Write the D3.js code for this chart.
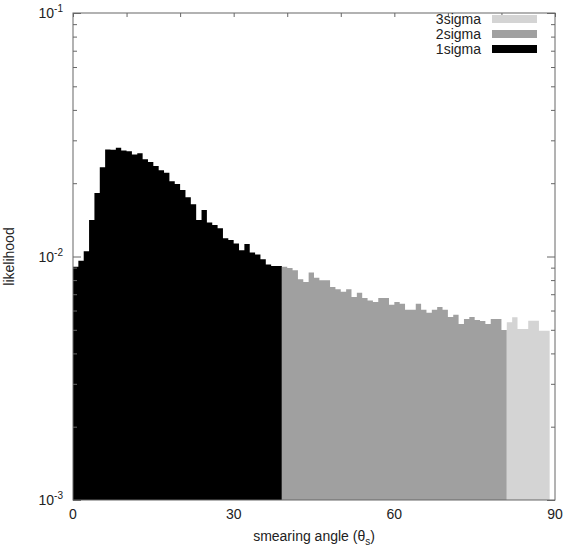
<!DOCTYPE html>
<html>
<head>
<meta charset="utf-8">
<script src="https://cdn.jsdelivr.net/npm/d3@7"></script>
<style>
  body { margin: 0; background: #fff; }
  svg text { font-family: "Liberation Sans", Arial, sans-serif; fill: #222; }
</style>
</head>
<body>
<svg id="chart" width="565" height="548"></svg>
<script>
// likelihood per 1-degree bin of the smearing angle, bins 0..88
const likelihood = [
  0.00907, 0.00960, 0.01051, 0.01413, 0.01821, 0.02325, 0.02749, 0.02742, 0.02795, 0.02723,
  0.02708, 0.02622, 0.02657, 0.02510, 0.02446, 0.02355, 0.02260, 0.02209, 0.02036, 0.01985,
  0.01874, 0.01753, 0.01640, 0.01413, 0.01553, 0.01378, 0.01347, 0.01305, 0.01187, 0.01168,
  0.01132, 0.01062, 0.01126, 0.01039, 0.01019, 0.00975, 0.00927, 0.00915, 0.00915, 0.00907,
  0.00898, 0.00878, 0.00807, 0.00786, 0.00859, 0.00817, 0.00798, 0.00798, 0.00750, 0.00733,
  0.00717, 0.00733, 0.00682, 0.00710, 0.00675, 0.00660, 0.00650, 0.00675, 0.00675, 0.00633,
  0.00650, 0.00639, 0.00604, 0.00604, 0.00639, 0.00604, 0.00587, 0.00604, 0.00621, 0.00604,
  0.00565, 0.00576, 0.00528, 0.00554, 0.00565, 0.00549, 0.00544, 0.00528, 0.00554, 0.00554,
  0.00499, 0.00537, 0.00563, 0.00504, 0.00504, 0.00545, 0.00545, 0.00496, 0.00496
];
const binWidth = 1;

// confidence regions: [from, to) in degrees
const sigmaNames = ["1sigma", "2sigma", "3sigma"];
const sigmaEdges = [0, 39, 81, 89];
const sigmaColors = ["#000000", "#a0a0a0", "#d4d4d4"];

const xTicks = [0, 30, 60, 90];
const xMinorTicks = [10, 20, 40, 50, 70, 80];
const yTicks = [1e-3, 1e-2, 1e-1];
const yTickExp = ["-3", "-2", "-1"];

const margin = { left: 73, right: 10, top: 13, bottom: 48 };
const W = 565, H = 548;
const svg = d3.select("#chart");

const x = d3.scaleLinear().domain([0, 90]).range([margin.left, W - margin.right]);
const y = d3.scaleLog().domain([1e-3, 1e-1]).range([H - margin.bottom, margin.top]);

const bins = likelihood.map((v, i) => ({ x0: i * binWidth, v }));

// histogram, one stepped area per sigma region
const area = d3.area()
  .curve(d3.curveStepAfter)
  .x(d => x(d.x0))
  .y0(y(1e-3))
  .y1(d => y(d.v));

sigmaNames.forEach((name, k) => {
  const part = bins.filter(b => b.x0 >= sigmaEdges[k] && b.x0 < sigmaEdges[k + 1]);
  const last = part[part.length - 1];
  part.push({ x0: sigmaEdges[k + 1], v: last.v });
  svg.append("path")
    .attr("d", area(part))
    .attr("fill", sigmaColors[k]);
});

// minor log ticks 2..9 per decade
const yMinor = [];
[1e-3, 1e-2].forEach(d => d3.range(2, 10).forEach(m => yMinor.push(d * m)));

const tickColor = "#666";
function styleAxis(g) {
  g.select(".domain").remove();
  g.selectAll("line").attr("stroke", tickColor);
}

svg.append("g").attr("transform", `translate(${margin.left},0)`)
  .call(d3.axisLeft(y).tickValues(yTicks).tickSize(-8).tickFormat(""))
  .call(styleAxis);
svg.append("g").attr("transform", `translate(${margin.left},0)`)
  .call(d3.axisLeft(y).tickValues(yMinor).tickSize(-4).tickFormat(""))
  .call(styleAxis);
svg.append("g").attr("transform", `translate(${W - margin.right},0)`)
  .call(d3.axisRight(y).tickValues(yTicks).tickSize(-8).tickFormat(""))
  .call(styleAxis);
svg.append("g").attr("transform", `translate(${W - margin.right},0)`)
  .call(d3.axisRight(y).tickValues(yMinor).tickSize(-4).tickFormat(""))
  .call(styleAxis);
svg.append("g").attr("transform", `translate(0,${margin.top})`)
  .call(d3.axisTop(x).tickValues(xTicks.concat(xMinorTicks)).tickSize(-4).tickFormat(""))
  .call(styleAxis);

// frame
svg.append("rect")
  .attr("x", margin.left).attr("y", margin.top)
  .attr("width", W - margin.left - margin.right)
  .attr("height", H - margin.top - margin.bottom)
  .attr("fill", "none").attr("stroke", tickColor).attr("stroke-width", 1);

// y tick labels with superscripts
yTicks.forEach((t, i) => {
  const txt = svg.append("text")
    .attr("x", margin.left - 10).attr("y", y(t) + 5)
    .attr("text-anchor", "end").attr("font-size", 14);
  txt.append("tspan").text("10");
  txt.append("tspan").attr("font-size", 10).attr("dy", -6).text(yTickExp[i]);
});

// x tick labels
svg.selectAll(".xlab").data(xTicks).enter().append("text")
  .attr("x", d => x(d)).attr("y", H - margin.bottom + 19)
  .attr("text-anchor", "middle").attr("font-size", 14)
  .text(d => d);

// axis titles
const xt = svg.append("text")
  .attr("x", (x(0) + x(90)) / 2).attr("y", H - 7)
  .attr("text-anchor", "middle").attr("font-size", 14);
xt.append("tspan").text("smearing angle (θ");
xt.append("tspan").attr("font-size", 10).attr("dy", 4).text("s");
xt.append("tspan").attr("dy", -4).text(")");

svg.append("text")
  .attr("transform", `translate(14,${(y(1e-3) + y(1e-1)) / 2}) rotate(-90)`)
  .attr("text-anchor", "middle").attr("font-size", 14)
  .text("likelihood");

// legend, 3sigma on top
const legendOrder = [2, 1, 0];
legendOrder.forEach((k, row) => {
  const cy = 19 + row * 15;
  svg.append("text")
    .attr("x", 481).attr("y", cy + 5)
    .attr("text-anchor", "end").attr("font-size", 14)
    .text(sigmaNames[k]);
  svg.append("rect")
    .attr("x", 492).attr("y", cy - 4)
    .attr("width", 45).attr("height", 8)
    .attr("fill", sigmaColors[k]);
});
</script>
</body>
</html>
